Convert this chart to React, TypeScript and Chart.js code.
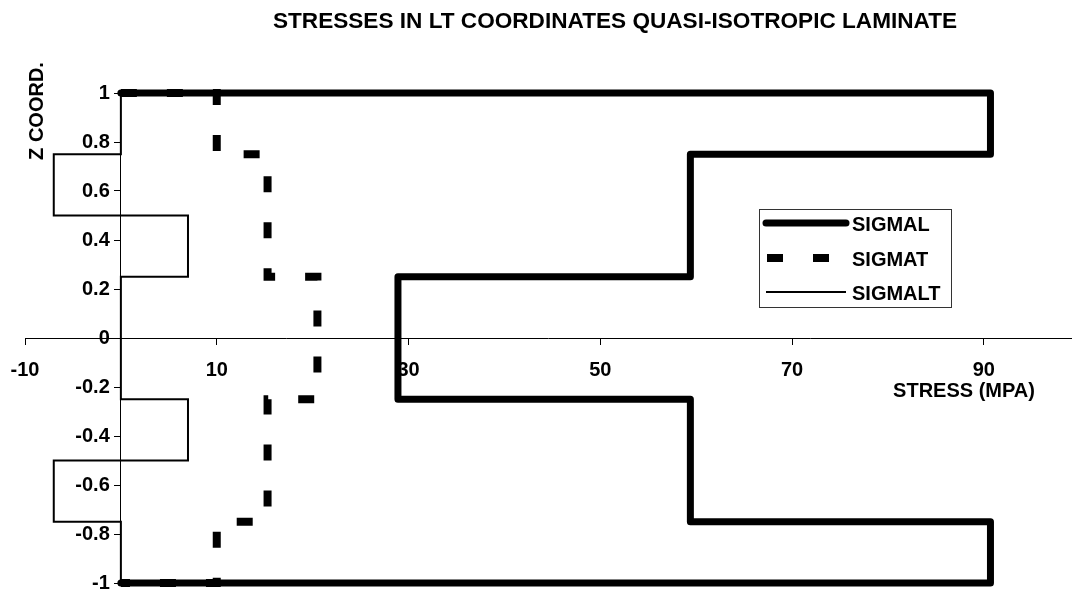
import React, { useEffect, useRef } from "react";
import { Chart, registerables } from "chart.js";

Chart.register(...registerables);

// ---- data ----
const chartTitle = "STRESSES IN LT COORDINATES QUASI-ISOTROPIC LAMINATE";
const xTitle = "STRESS (MPA)";
const yTitle = "Z COORD.";
const xTickValues = [-10, 10, 30, 50, 70, 90];

const zCoords = [1, 1, 0.75, 0.75, 0.25, 0.25, -0.25, -0.25, -0.75, -0.75, -1, -1];
const sigmaL = [0, 90.7, 90.7, 59.4, 59.4, 28.9, 28.9, 59.4, 59.4, 90.7, 90.7, 0];
const sigmaT = [0, 10, 10, 15.3, 15.3, 20.5, 20.5, 15.3, 15.3, 10, 10, 0];
const zCoordsLT = [1, 0.75, 0.75, 0.5, 0.5, 0.25, 0.25, -0.25, -0.25, -0.5, -0.5, -0.75, -0.75, -1];
const sigmaLT = [0, 0, -7, -7, 7, 7, 0, 0, 7, 7, -7, -7, 0, 0];

const FONT = "'Liberation Sans', Arial, Helvetica, sans-serif";

const pts = (xs: number[], ys: number[]) => xs.map((x, i) => ({ x, y: ys[i] }));

const textPlugin = {
  id: "texts",
  afterDraw(chart: any) {
    const ctx = chart.ctx;
    ctx.save();
    ctx.fillStyle = "#000";
    ctx.font = `bold 22.6px ${FONT}`;
    ctx.textAlign = "center";
    ctx.textBaseline = "alphabetic";
    ctx.fillText(chartTitle, 615, 28);

    ctx.font = `bold 20px ${FONT}`;
    ctx.fillText(xTitle, 964, 397);

    ctx.save();
    ctx.translate(43, 111);
    ctx.rotate(-Math.PI / 2);
    ctx.fillText(yTitle, 0, 0);
    ctx.restore();

    // legend
    const bx = 759, by = 209, bw = 192, bh = 98;
    ctx.fillStyle = "#fff";
    ctx.fillRect(bx, by, bw, bh);
    ctx.strokeStyle = "#333";
    ctx.lineWidth = 1;
    ctx.strokeRect(bx + 0.5, by + 0.5, bw, bh);
    const rows = [223, 258, 292];
    chart.data.datasets.forEach((ds: any, i: number) => {
      const y = rows[i];
      ctx.save();
      ctx.strokeStyle = ds.borderColor;
      ctx.lineWidth = ds.borderWidth;
      ctx.lineCap = ds.borderCapStyle || "butt";
      ctx.setLineDash(ds.borderDash || []);
      ctx.beginPath();
      if (i === 1) {
        ctx.moveTo(767, y);
        ctx.lineTo(846, y);
      } else {
        ctx.moveTo(766, y);
        ctx.lineTo(846, y);
      }
      ctx.stroke();
      ctx.restore();
      ctx.fillStyle = "#000";
      ctx.textAlign = "left";
      ctx.textBaseline = "alphabetic";
      ctx.font = `bold 20px ${FONT}`;
      ctx.fillText(ds.label, 852, y + 8);
    });
    ctx.restore();
  },
};

export default function App() {
  const ref = useRef<HTMLCanvasElement>(null);
  useEffect(() => {
    if (!ref.current) return;
    const tickFont = { family: FONT, size: 20, weight: "bold" as const };
    const chart = new Chart(ref.current, {
      type: "scatter",
      data: {
        datasets: [
          {
            label: "SIGMAL",
            data: pts(sigmaL, zCoords),
            showLine: true,
            borderColor: "#000",
            borderWidth: 7,
            borderCapStyle: "round",
            borderJoinStyle: "round",
            pointRadius: 0,
            clip: false,
          } as any,
          {
            label: "SIGMAT",
            data: pts(sigmaT, zCoords),
            showLine: true,
            borderColor: "#000",
            borderWidth: 8,
            borderDash: [16, 30],
            borderCapStyle: "butt",
            borderJoinStyle: "miter",
            pointRadius: 0,
            clip: false,
          } as any,
          {
            label: "SIGMALT",
            data: pts(sigmaLT, zCoordsLT),
            showLine: true,
            borderColor: "#000",
            borderWidth: 2,
            borderJoinStyle: "miter",
            pointRadius: 0,
            clip: false,
          } as any,
        ],
      },
      options: {
        animation: false,
        responsive: false,
        devicePixelRatio: 1,
        layout: { padding: { left: 25, right: 2, top: 93, bottom: 7 } },
        plugins: {
          legend: { display: false },
          title: { display: false },
          tooltip: { enabled: false },
        },
        scales: {
          x: {
            type: "linear",
            min: -10,
            max: 99.1,
            position: { y: 0 } as any,
            afterBuildTicks: (s: any) => {
              s.ticks = xTickValues.map((v) => ({ value: v }));
            },
            afterFit: (s: any) => {
              s.paddingLeft = 0;
              s.paddingRight = 0;
            },
            grid: { drawOnChartArea: false, drawTicks: true, tickLength: 6, tickColor: "#000", tickWidth: 1 },
            border: { display: true, color: "#000", width: 1 },
            ticks: { font: tickFont, color: "#000", padding: 14, maxRotation: 0, autoSkip: false },
          },
          y: {
            type: "linear",
            min: -1,
            max: 1,
            position: { x: 0 } as any,
            afterFit: (s: any) => {
              s.paddingTop = 0;
              s.paddingBottom = 0;
            },
            grid: { drawOnChartArea: false, drawTicks: true, tickLength: 6, tickColor: "#000", tickWidth: 1 },
            border: { display: true, color: "#000", width: 1 },
            ticks: {
              stepSize: 0.2,
              font: tickFont,
              color: "#000",
              padding: 8,
              autoSkip: false,
              callback: (v: any) => String(Math.round(Number(v) * 10) / 10) + "  ",
            },
          },
        },
      },
      plugins: [textPlugin],
    });
    return () => chart.destroy();
  }, []);
  return (
    <div style={{ position: "fixed", left: 0, top: 0, width: 1073, height: 590, background: "#fff" }}>
      <canvas ref={ref} width={1073} height={590} style={{ width: 1073, height: 590 }} />
    </div>
  );
}
